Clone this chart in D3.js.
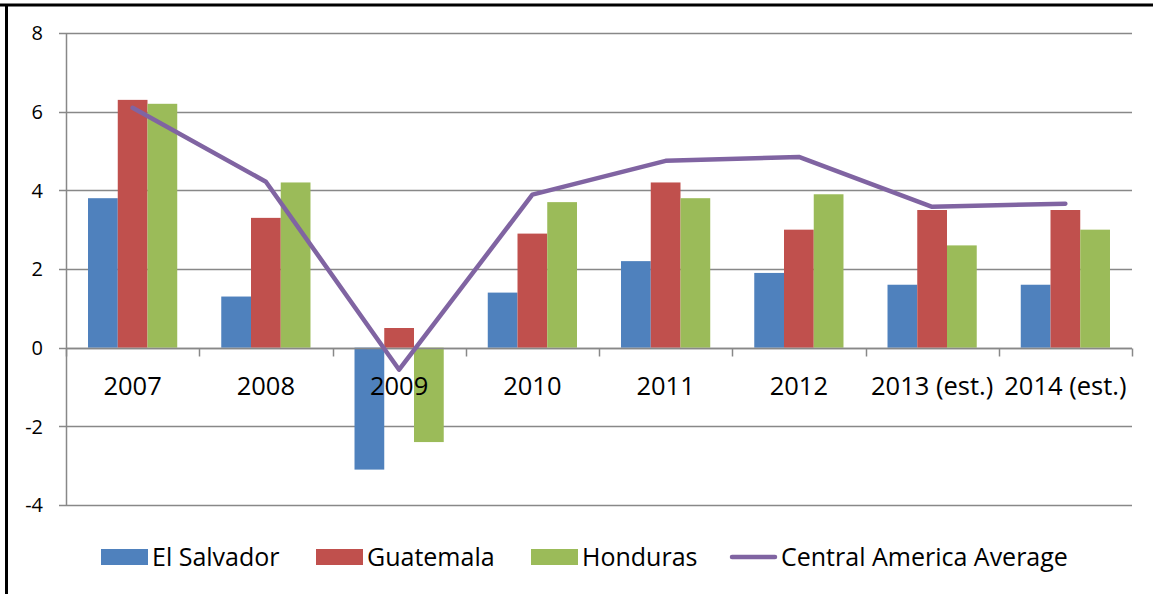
<!DOCTYPE html>
<html>
<head>
<meta charset="utf-8">
<script src="https://cdn.jsdelivr.net/npm/d3@7.9.0/dist/d3.min.js"></script>
<style>
  body { margin: 0; background: #fff; }
  svg { display: block; font-family: "Open Sans", "Noto Sans", sans-serif; }
</style>
</head>
<body>
<svg width="1153" height="594"></svg>
<script>
const years = ['2007', '2008', '2009', '2010', '2011', '2012', '2013 (est.)', '2014 (est.)'];
const elSalvador = [3.8, 1.3, -3.1, 1.4, 2.2, 1.9, 1.6, 1.6];
const guatemala = [6.3, 3.3, 0.5, 2.9, 4.2, 3.0, 3.5, 3.5];
const honduras = [6.2, 4.2, -2.4, 3.7, 3.8, 3.9, 2.6, 3.0];
const caAverage = [6.1, 4.22, -0.56, 3.89, 4.75, 4.85, 3.58, 3.66];
const yTicks = [-4, -2, 0, 2, 4, 6, 8];

const seriesNames = ['El Salvador', 'Guatemala', 'Honduras'];
const colors = ['#4F81BD', '#C0504D', '#9BBB59'];
const lineColor = '#8064A2';

const svg = d3.select('svg');

// outer frame (top and left edges only are visible)
svg.append('line').attr('x1', 0).attr('x2', 1153).attr('y1', 5).attr('y2', 5)
  .attr('stroke', '#000').attr('stroke-width', 3);
svg.append('line').attr('x1', 6.5).attr('x2', 6.5).attr('y1', 4).attr('y2', 594)
  .attr('stroke', '#000').attr('stroke-width', 3);

const plotLeft = 66, plotRight = 1132, plotTop = 33, plotBottom = 505;

const x = d3.scaleBand().domain(years).range([plotLeft, plotRight]).paddingInner(0).paddingOuter(0);
const x1 = d3.scaleBand().domain(seriesNames).range([0, x.bandwidth()]).paddingInner(0).paddingOuter(0.74);
const y = d3.scaleLinear().domain([-4, 8]).range([plotBottom, plotTop]);

// gridlines
svg.append('g').selectAll('line').data(yTicks).join('line')
  .attr('x1', plotLeft - 7).attr('x2', plotRight)
  .attr('y1', d => Math.round(y(d)) + 0.5).attr('y2', d => Math.round(y(d)) + 0.5)
  .attr('stroke', '#888').attr('stroke-width', 1.5);

// y axis line
svg.append('line').attr('x1', plotLeft + 0.5).attr('x2', plotLeft + 0.5).attr('y1', plotTop).attr('y2', plotBottom)
  .attr('stroke', '#888').attr('stroke-width', 1.5);

// y labels
svg.append('g').selectAll('text').data(yTicks).join('text')
  .attr('x', 43).attr('y', d => y(d)).attr('dy', '0.36em')
  .attr('text-anchor', 'end').attr('font-size', 20).attr('fill', '#000')
  .text(d => d);

// bars
const data = [elSalvador, guatemala, honduras];
data.forEach((vals, s) => {
  svg.append('g').selectAll('rect').data(vals).join('rect')
    .attr('x', (d, i) => x(years[i]) + x1(seriesNames[s]))
    .attr('width', x1.bandwidth())
    .attr('y', d => y(Math.max(0, d)))
    .attr('height', d => Math.abs(y(d) - y(0)))
    .attr('fill', colors[s]);
});

// zero axis with category tick marks
const zeroY = Math.round(y(0)) + 0.5;
svg.append('line').attr('x1', plotLeft).attr('x2', plotRight).attr('y1', zeroY).attr('y2', zeroY)
  .attr('stroke', '#888').attr('stroke-width', 1.5);
const boundaries = years.map(d => x(d)).concat([plotRight]);
svg.append('g').selectAll('line').data(boundaries).join('line')
  .attr('x1', d => Math.round(d) + 0.5).attr('x2', d => Math.round(d) + 0.5)
  .attr('y1', zeroY).attr('y2', zeroY + 8)
  .attr('stroke', '#888').attr('stroke-width', 1.5);

// category labels
svg.append('g').selectAll('text').data(years).join('text')
  .attr('x', d => x(d) + x.bandwidth() / 2).attr('y', 395)
  .attr('text-anchor', 'middle').attr('font-size', 25.5).attr('fill', '#000')
  .text(d => d);

// average line
const line = d3.line()
  .x((d, i) => x(years[i]) + x.bandwidth() / 2)
  .y(d => y(d));
svg.append('path').datum(caAverage)
  .attr('d', line).attr('fill', 'none')
  .attr('stroke', lineColor).attr('stroke-width', 4.5).attr('stroke-linejoin', 'round').attr('stroke-linecap', 'round');

// legend
const legendItems = [
  { name: 'El Salvador', color: colors[0], type: 'rect', x: 101 },
  { name: 'Guatemala', color: colors[1], type: 'rect', x: 316 },
  { name: 'Honduras', color: colors[2], type: 'rect', x: 531 },
  { name: 'Central America Average', color: lineColor, type: 'line', x: 730 }
];
const lg = svg.append('g');
legendItems.forEach(it => {
  if (it.type === 'rect') {
    lg.append('rect').attr('x', it.x).attr('y', 549).attr('width', 47).attr('height', 16).attr('fill', it.color);
  } else {
    lg.append('line').attr('x1', it.x + 2).attr('x2', it.x + 45).attr('y1', 557).attr('y2', 557)
      .attr('stroke', it.color).attr('stroke-width', 4.5).attr('stroke-linecap', 'round');
  }
  lg.append('text').attr('x', it.x + 51).attr('y', 557).attr('dy', '0.36em')
    .attr('font-size', 25).attr('fill', '#000').text(it.name);
});
</script>
</body>
</html>
